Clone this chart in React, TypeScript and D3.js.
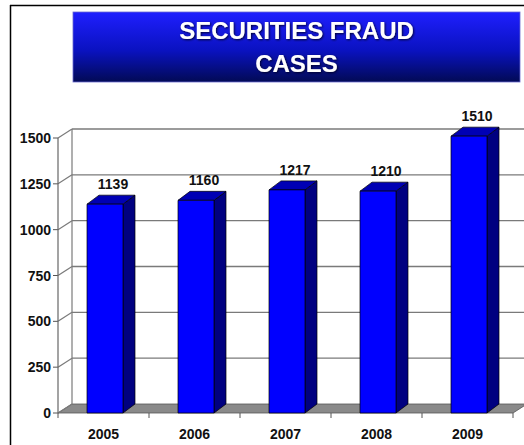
import React from "react";
import * as d3 from "d3";

const years = ["2005", "2006", "2007", "2008", "2009"];
const cases = [1139, 1160, 1217, 1210, 1510];
const yTicks = [0, 250, 500, 750, 1000, 1250, 1500];
const titleLines = ["SECURITIES FRAUD", "CASES"];

const W = 524;
const H = 445;
const FONT = "'Liberation Sans', Arial, sans-serif";

export default function App() {
  const y = d3.scaleLinear().domain([0, 1500]).range([413, 138]);
  const x = d3.scaleBand().domain(years).range([58, 513]).paddingInner(0).paddingOuter(0);
  const wdx = 14, wdy = -9; // wall depth offset
  const bdx = 12, bdy = -9; // bar depth offset
  const barW = 36;
  const barOff = 29;
  const y0 = y(0);
  const xL = x.range()[0];
  const xR = x.range()[1];

  return (
    <svg width={W} height={H} style={{ position: "absolute", left: 0, top: 0, background: "#fff" }}>
      <defs>
        <linearGradient id="tg" x1="0" y1="0" x2="0" y2="1">
          <stop offset="0" stopColor="#1f1fff" />
          <stop offset="0.55" stopColor="#0a12c0" />
          <stop offset="1" stopColor="#020a55" />
        </linearGradient>
        <filter id="ts" x="-10%" y="-30%" width="120%" height="160%">
          <feDropShadow dx="1" dy="1" stdDeviation="1" floodColor="#000020" floodOpacity="0.9" />
        </filter>
      </defs>
      {/* frame */}
      <line x1={10.5} y1={5} x2={10.5} y2={H} stroke="#000" strokeWidth={1.5} />
      <line x1={10} y1={5.5} x2={W} y2={5.5} stroke="#000" strokeWidth={1.5} />
      {/* title */}
      <rect x={73} y={12} width={447} height={70} fill="url(#tg)" stroke="#6a6ad0" strokeWidth={0.8} />
      {titleLines.map((t, i) => (
        <text key={t} x={296.5} y={39 + i * 33} textAnchor="middle" fill="#fff" fontFamily={FONT}
          fontWeight="bold" fontSize={24} filter="url(#ts)">{t}</text>
      ))}
      {/* floor */}
      <polygon
        points={`${xL},${y0} ${xR},${y0} ${xR + wdx},${y0 + wdy} ${xL + wdx},${y0 + wdy}`}
        fill="#8a8a8a" stroke="#555" strokeWidth={0.8} />
      {/* back wall grid + left wall */}
      {yTicks.map((t) => (
        <g key={t}>
          {t > 0 && (
            <line x1={xL + wdx} y1={y(t) + wdy} x2={W} y2={y(t) + wdy} stroke="#7a7a7a" strokeWidth={1.3} />
          )}
          <line x1={xL} y1={y(t)} x2={xL + wdx} y2={y(t) + wdy} stroke="#7a7a7a" strokeWidth={1.2} />
          <line x1={xL - 5} y1={y(t)} x2={xL} y2={y(t)} stroke="#555" strokeWidth={1} />
          <text x={51} y={y(t) + 5} textAnchor="end" fontFamily={FONT} fontWeight="bold" fontSize={14}
            fill="#111">{t}</text>
        </g>
      ))}
      <line x1={xL + wdx} y1={y(0) + wdy} x2={xL + wdx} y2={y(1500) + wdy} stroke="#7a7a7a" strokeWidth={1.2} />
      <line x1={xL} y1={y(0)} x2={xL} y2={y(1500)} stroke="#666" strokeWidth={1.2} />
      {/* x ticks */}
      {[...years.map((c) => x(c) as number), xR].map((v, i) => (
        <line key={i} x1={v} y1={y0} x2={v} y2={y0 + 5} stroke="#555" strokeWidth={1} />
      ))}
      {/* bars */}
      {years.map((c, i) => {
        const x0 = (x(c) as number) + barOff;
        const x1 = x0 + barW;
        const yt = y(cases[i]);
        return (
          <g key={c} stroke="#000" strokeWidth={0.7} strokeLinejoin="round">
            <polygon points={`${x1},${yt} ${x1 + bdx},${yt + bdy} ${x1 + bdx},${y0 + bdy} ${x1},${y0}`} fill="#000080" />
            <polygon points={`${x0},${yt} ${x0 + bdx},${yt + bdy} ${x1 + bdx},${yt + bdy} ${x1},${yt}`} fill="#0000b4" />
            <rect x={x0} y={yt} width={barW} height={y0 - yt} fill="#0000ff" />
            <text x={x0 + barW / 2 + 8} y={yt - 15} textAnchor="middle" fontFamily={FONT} fontWeight="bold"
              fontSize={14} fill="#111" stroke="none">{cases[i]}</text>
          </g>
        );
      })}
      {/* x labels */}
      {years.map((c) => (
        <text key={c} x={(x(c) as number) + x.bandwidth() / 2} y={439} textAnchor="middle" fontFamily={FONT}
          fontWeight="bold" fontSize={14} fill="#111">{c}</text>
      ))}
    </svg>
  );
}
